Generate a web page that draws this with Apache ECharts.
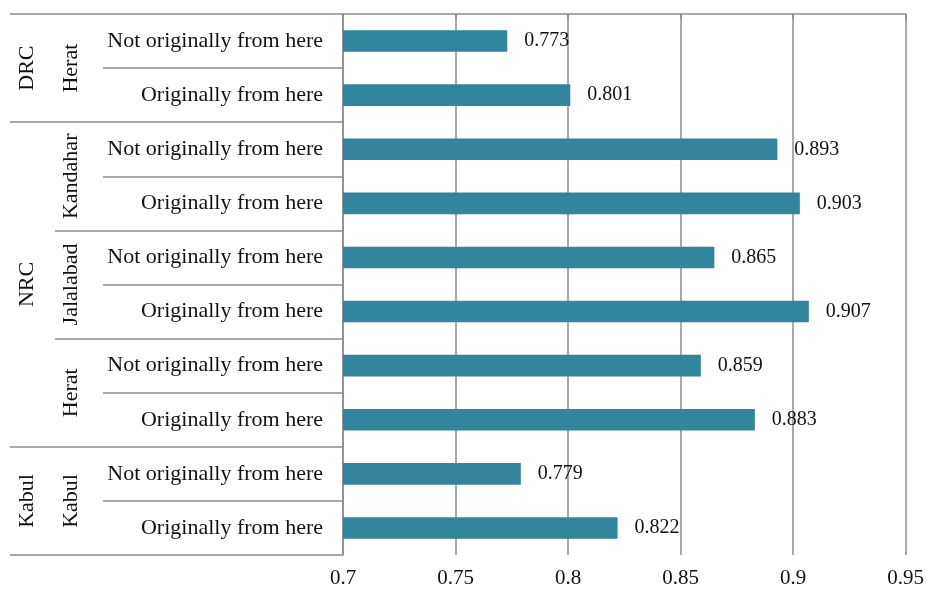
<!DOCTYPE html>
<html><head><meta charset="utf-8">
<script src="https://cdn.jsdelivr.net/npm/echarts@6/dist/echarts.min.js"></script>
<style>html,body{margin:0;padding:0;background:#fff}#c{width:927px;height:590px}</style>
</head><body><div id="c"></div>
<script>
const categories = ['Not originally from here','Originally from here','Not originally from here','Originally from here','Not originally from here','Originally from here','Not originally from here','Originally from here','Not originally from here','Originally from here'];
const values = [0.773,0.801,0.893,0.903,0.865,0.907,0.859,0.883,0.779,0.822];
const cities = ['Herat','Kandahar','Jalalabad','Herat','Kabul'];
const orgs = ['DRC','NRC','Kabul'];
const orgSpans = [2,6,2];
const xTicks = [0.7,0.75,0.8,0.85,0.9,0.95];

const FONT = 'Liberation Serif';
const GRAY = '#8c8c8c';
const orgBounds = [0]; orgSpans.forEach(s => orgBounds.push(orgBounds[orgBounds.length-1] + s));
const orgCenters = orgSpans.map((s,i) => orgBounds[i] + s/2);

const chart = echarts.init(document.getElementById('c'), null, {renderer:'canvas'});
chart.setOption({
  animation:false,
  grid:{left:343,right:19,top:14,bottom:35,containLabel:false},
  xAxis:{type:'value',min:xTicks[0],max:xTicks[xTicks.length-1],interval:0.05,
    axisLine:{show:true,lineStyle:{color:GRAY,width:1.5}},
    axisTick:{show:true,length:5,lineStyle:{color:GRAY,width:1.5}},
    splitLine:{show:true,lineStyle:{color:GRAY,width:1.5}},
    axisLabel:{fontFamily:FONT,fontSize:21,color:'#111',margin:13,formatter:v=>String(+v.toFixed(2))}},
  yAxis:[
    {type:'category',data:categories,inverse:true,position:'left',
      axisLine:{show:true,lineStyle:{color:GRAY,width:1.5}},
      axisTick:{show:true,interval:0,length:240,lineStyle:{color:GRAY,width:1.5}},
      axisLabel:{interval:0,fontFamily:FONT,fontSize:22,color:'#111',margin:20}},
    {type:'category',data:cities,inverse:true,position:'left',offset:240,
      axisLine:{show:false},
      axisTick:{show:true,interval:0,length:48,lineStyle:{color:GRAY,width:1.5}},
      axisLabel:{interval:0,hideOverlap:false,fontFamily:FONT,fontSize:22,color:'#111',rotate:90,margin:21}},
    {type:'value',min:0,max:10,inverse:true,position:'left',offset:288,
      axisLine:{show:false},splitLine:{show:false},
      axisTick:{show:true,length:45,customValues:orgBounds,lineStyle:{color:GRAY,width:1.5}},
      axisLabel:{fontFamily:FONT,fontSize:22,color:'#111',rotate:90,margin:17,customValues:orgCenters,
        formatter:v=>{const i=orgCenters.indexOf(v);return i>=0?orgs[i]:'';}}}
  ],
  series:[{type:'bar',yAxisIndex:0,data:values,barWidth:'40%',
    itemStyle:{color:'#31859C'},
    label:{show:true,position:'right',distance:17,fontFamily:FONT,fontSize:20,color:'#111',
      formatter:p=>p.value.toFixed(3)}}]
});
</script></body></html>
